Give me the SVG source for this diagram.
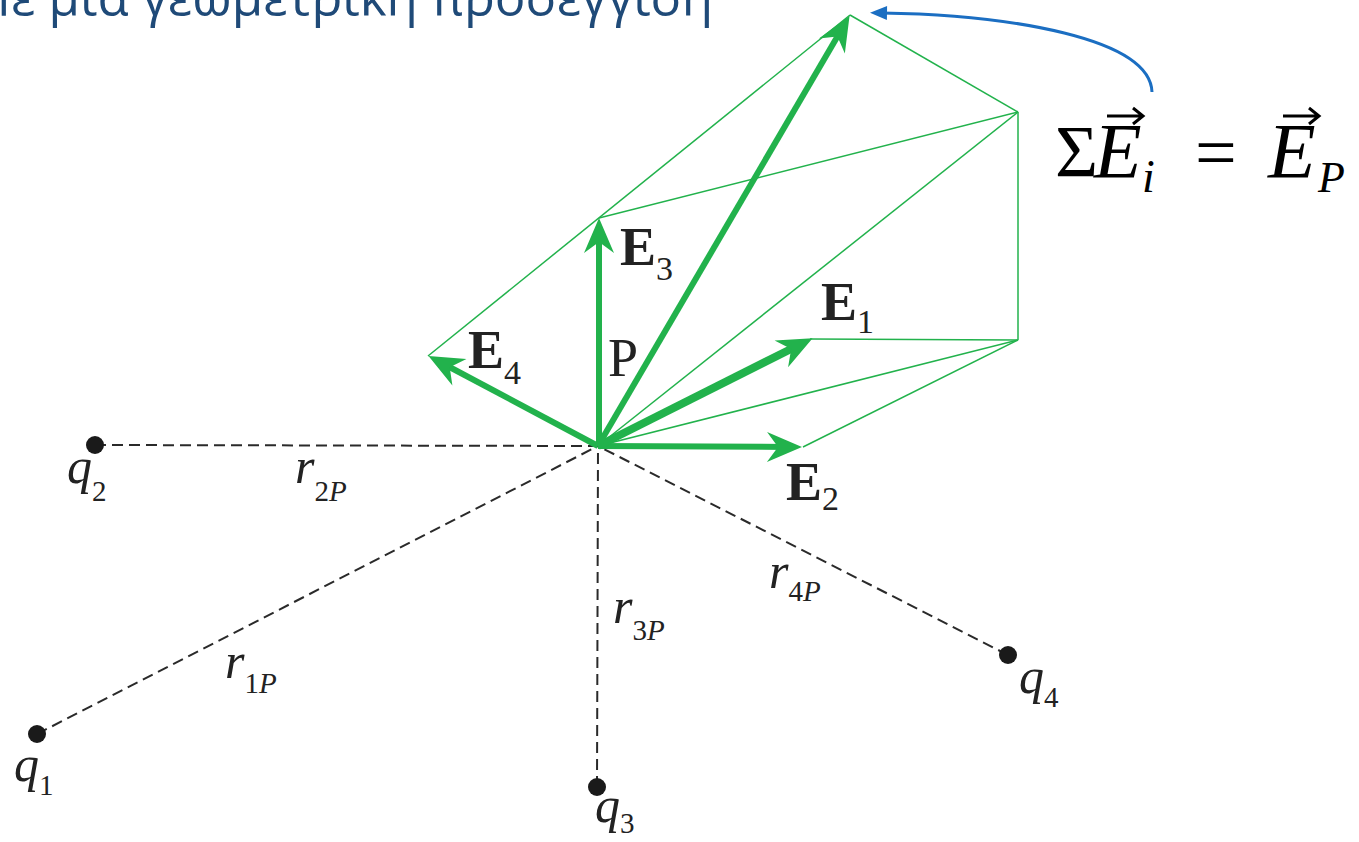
<svg xmlns="http://www.w3.org/2000/svg" width="1359" height="842" viewBox="0 0 1359 842">
<style>
.thin{stroke:#22b24c;stroke-width:1.5;fill:none}
.vec{stroke:#22b24c;fill:none;marker-end:url(#gh)}
.dash{stroke:#2a2a2a;stroke-width:2;stroke-dasharray:11 6;fill:none}
.dot{fill:#1a1a1a}
.it{font-family:"Liberation Serif",serif;font-style:italic;font-size:50px;fill:#222}
.sub{font-style:normal;font-size:29px}
.subi{font-style:italic;font-size:29px}
.bold{font-family:"Liberation Serif",serif;font-weight:bold;font-size:54px;fill:#222}
.bsub{font-weight:normal;font-size:34px}
.math{font-family:"Liberation Serif","DejaVu Serif",serif;fill:#000}
</style>
<defs>
<marker id="gh" viewBox="-40 -20 44 40" refX="-13" refY="0" markerWidth="44" markerHeight="40" markerUnits="userSpaceOnUse" orient="auto">
<path d="M0,0 L-35,-15 L-24,0 L-35,15 Z" fill="#22b24c"/>
</marker>
<marker id="bh" viewBox="-20 -10 22 20" refX="-12" refY="0" markerWidth="22" markerHeight="20" markerUnits="userSpaceOnUse" orient="auto">
<path d="M0,0 L-17,-7 L-17,7 Z" fill="#1b6ec2"/>
</marker>
</defs>
<rect width="1359" height="842" fill="#fff"/>
<text x="713" y="16" text-anchor="end" font-family="Open Sans" font-size="51" fill="#1f4a78">Με μια γεωμετρική προσέγγιση</text>
<g id="connectors">
<line class="dash" x1="95" y1="445" x2="598" y2="446"/>
<line class="dash" x1="37" y1="734" x2="598" y2="446"/>
<line class="dash" x1="597" y1="787" x2="598" y2="446"/>
<line class="dash" x1="1008" y1="655" x2="598" y2="446"/>
<line class="thin" x1="428" y1="356" x2="850" y2="15"/>
<line class="thin" x1="850" y1="15" x2="1018" y2="112"/>
<line class="thin" x1="599" y1="218" x2="1018" y2="112"/>
<line class="thin" x1="598" y1="446" x2="1018" y2="112"/>
<line class="thin" x1="1018" y1="112" x2="1018" y2="340"/>
<line class="thin" x1="810" y1="339" x2="1018" y2="340"/>
<line class="thin" x1="598" y1="446" x2="1018" y2="340"/>
<line class="thin" x1="803" y1="447" x2="1018" y2="340"/>
<line class="vec" stroke-width="6" x1="598" y1="446" x2="789" y2="447"/>
<line class="vec" stroke-width="8" x1="598" y1="446" x2="801" y2="344"/>
<line class="vec" stroke-width="6" x1="599" y1="446" x2="599" y2="231"/>
<line class="vec" stroke-width="6" x1="598" y1="446" x2="440" y2="362"/>
<line class="vec" stroke-width="6" x1="598" y1="446" x2="843" y2="27"/>
<path d="M1152,92 C1150,38 1010,15 882,13" stroke="#1b6ec2" stroke-width="3" fill="none" marker-end="url(#bh)"/>
</g>
<g id="q1"><circle class="dot" cx="37" cy="734" r="9"/><text class="it" x="14" y="781">q<tspan class="sub" dy="14">1</tspan></text></g>
<g id="q2"><circle class="dot" cx="95" cy="445" r="9"/><text class="it" x="67" y="483">q<tspan class="sub" dy="18">2</tspan></text></g>
<g id="q3"><circle class="dot" cx="597" cy="787" r="9"/><text class="it" x="595" y="822">q<tspan class="sub" dy="11">3</tspan></text></g>
<g id="q4"><circle class="dot" cx="1008" cy="655" r="9"/><text class="it" x="1019" y="693">q<tspan class="sub" dy="14">4</tspan></text></g>
<g id="r-labels">
<text class="it" x="295" y="483">r<tspan class="sub" dy="18">2</tspan><tspan class="subi">P</tspan></text>
<text class="it" x="225" y="678">r<tspan class="sub" dy="15">1</tspan><tspan class="subi">P</tspan></text>
<text class="it" x="613" y="623">r<tspan class="sub" dy="17">3</tspan><tspan class="subi">P</tspan></text>
<text class="it" x="769" y="588">r<tspan class="sub" dy="13">4</tspan><tspan class="subi">P</tspan></text>
</g>
<g id="P"><text x="608" y="376" font-family="Liberation Serif" font-size="54" fill="#222">P</text></g>
<g id="E-labels">
<text class="bold" x="821" y="320">E<tspan class="bsub" dy="13">1</tspan></text>
<text class="bold" x="786" y="500">E<tspan class="bsub" dy="10">2</tspan></text>
<text class="bold" x="620" y="265">E<tspan class="bsub" dy="15">3</tspan></text>
<text class="bold" x="468" y="368">E<tspan class="bsub" dy="16">4</tspan></text>
</g>
<g id="formula">
<text class="math" x="1055" y="177" font-size="74">Σ</text>
<text class="math" x="1094" y="177" font-size="78" font-style="italic">E</text>
<path d="M1107,116 H1142 M1133,108 L1143,116 L1133,124" stroke="#000" stroke-width="3" fill="none"/>
<text class="math" x="1142" y="192" font-size="46" font-style="italic">i</text>
<text class="math" x="1195" y="177" font-size="74">=</text>
<text class="math" x="1268" y="177" font-size="78" font-style="italic">E</text>
<path d="M1283,116 H1318 M1309,108 L1319,116 L1309,124" stroke="#000" stroke-width="3" fill="none"/>
<text class="math" x="1318" y="192" font-size="44" font-style="italic">P</text>
</g>
</svg>
